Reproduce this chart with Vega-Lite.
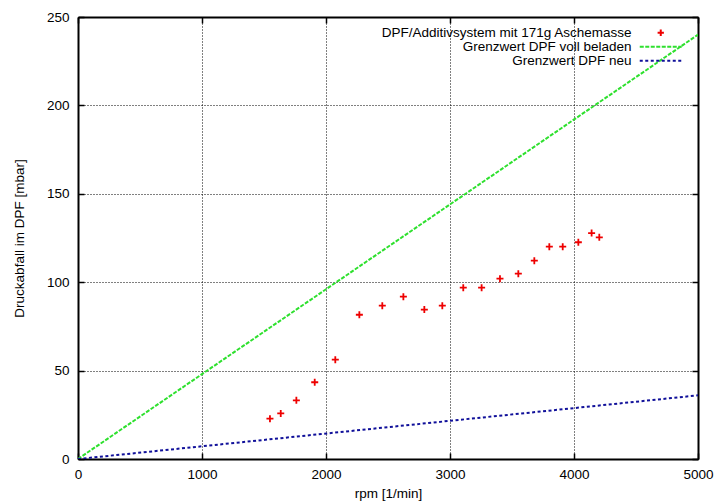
{
  "$schema": "https://vega.github.io/schema/vega-lite/v6.json",
  "width": 620,
  "height": 442,
  "autosize": {"type": "none"},
  "padding": {"left": 78, "top": 17, "right": 22, "bottom": 45},
  "background": "white",
  "config": {
    "font": "Liberation Sans",
    "view": {"stroke": null},
    "axis": {
      "labelFont": "Liberation Sans",
      "labelFontSize": 13.5,
      "labelColor": "black",
      "titleFont": "Liberation Sans",
      "titleFontSize": 13.5,
      "titleFontWeight": "normal",
      "titleColor": "black",
      "domainColor": "black",
      "domainWidth": 2,
      "tickColor": "black",
      "tickWidth": 1.5,
      "gridColor": "black",
      "gridOpacity": 1,
      "gridDash": [1, 2],
      "gridWidth": 1,
      "labelFlush": false,
      "labelOverlap": false
    },
    "legend": {"labelFont": "Liberation Sans", "labelFontSize": 13.5, "labelColor": "black"}
  },
  "datasets": {
    "messung": [
      {"rpm": 1548, "dp": 22.8},
      {"rpm": 1635, "dp": 25.8},
      {"rpm": 1761, "dp": 33.2},
      {"rpm": 1909, "dp": 43.4},
      {"rpm": 2075, "dp": 56.2},
      {"rpm": 2269, "dp": 81.6},
      {"rpm": 2454, "dp": 86.7},
      {"rpm": 2624, "dp": 91.8},
      {"rpm": 2793, "dp": 84.5},
      {"rpm": 2938, "dp": 86.7},
      {"rpm": 3107, "dp": 96.9},
      {"rpm": 3255, "dp": 96.9},
      {"rpm": 3403, "dp": 102.0},
      {"rpm": 3551, "dp": 104.8},
      {"rpm": 3680, "dp": 112.2},
      {"rpm": 3801, "dp": 120.1},
      {"rpm": 3909, "dp": 120.1},
      {"rpm": 4035, "dp": 122.6},
      {"rpm": 4142, "dp": 127.8},
      {"rpm": 4204, "dp": 125.4}
    ],
    "grenz": [
      {"series": "Grenzwert DPF voll beladen", "rpm": 0, "dp": 0},
      {"series": "Grenzwert DPF voll beladen", "rpm": 5000, "dp": 240},
      {"series": "Grenzwert DPF neu", "rpm": 0, "dp": 0},
      {"series": "Grenzwert DPF neu", "rpm": 5000, "dp": 36}
    ]
  },
  "resolve": {"axis": {"x": "independent", "y": "independent"}},
  "layer": [
    {
      "data": {"name": "grenz"},
      "mark": {"type": "line", "strokeWidth": 2, "clip": true},
      "encoding": {
        "x": {
          "field": "rpm", "type": "quantitative",
          "scale": {"domain": [0, 5000], "nice": false, "zero": false},
          "axis": {
            "orient": "bottom", "values": [0, 1000, 2000, 3000, 4000, 5000],
            "grid": true, "tickSize": -6, "labelPadding": 14,
            "title": "rpm [1/min]", "titlePadding": 6, "format": "d"
          }
        },
        "y": {
          "field": "dp", "type": "quantitative",
          "scale": {"domain": [0, 250], "nice": false, "zero": false},
          "axis": {
            "orient": "left", "values": [0, 50, 100, 150, 200, 250],
            "grid": true, "tickSize": -6, "labelPadding": 15,
            "title": "Druckabfall im DPF [mbar]", "titlePadding": 20, "format": "d"
          }
        },
        "color": {
          "field": "series", "type": "nominal",
          "scale": {
            "domain": ["DPF/Additivsystem mit 171g Aschemasse", "Grenzwert DPF voll beladen", "Grenzwert DPF neu"],
            "range": ["#ee0000", "#2ee02e", "#10109a"]
          },
          "legend": {
            "title": null,
            "orient": "none",
            "legendX": 560,
            "legendY": 9,
            "padding": 0,
            "symbolSize": 100,
            "symbolStrokeWidth": 2,
            "labelAlign": "right",
            "labelOffset": -36,
            "symbolOffset": 16,
            "rowPadding": -2.5,
            "labelLimit": 400,
            "encode": {
              "symbols": {
                "update": {
                  "shape": {"signal": "datum.value === 'DPF/Additivsystem mit 171g Aschemasse' ? 'M-0.63,0H0.63M0,-0.63V0.63' : 'M-4.2,0H4.2'"},
                  "strokeDash": {"signal": "datum.value === 'Grenzwert DPF voll beladen' ? [4,1.5] : (datum.value === 'Grenzwert DPF neu' ? [3,2.5] : [1,0])"},
                  "stroke": {"signal": "scale('color', datum.value)"},
                  "fill": {"value": "transparent"},
                  "size": {"value": 100},
                  "strokeWidth": {"value": 2},
                  "opacity": {"value": 1}
                }
              }
            }
          }
        },
        "strokeDash": {
          "field": "series", "type": "nominal",
          "scale": {"domain": ["Grenzwert DPF voll beladen", "Grenzwert DPF neu"], "range": [[4, 1.5], [3, 2.5]]},
          "legend": null
        }
      }
    },
    {
      "data": {"name": "messung"},
      "mark": {"type": "point", "shape": "M-1,0H1M0,-1V1", "filled": false, "size": 49, "strokeWidth": 1.8, "opacity": 1},
      "encoding": {
        "x": {
          "field": "rpm", "type": "quantitative",
          "axis": {"orient": "top", "values": [0, 1000, 2000, 3000, 4000, 5000], "labels": false, "grid": false, "tickSize": -6, "title": null}
        },
        "y": {
          "field": "dp", "type": "quantitative",
          "axis": {"orient": "right", "values": [0, 50, 100, 150, 200, 250], "labels": false, "grid": false, "tickSize": -6, "title": null}
        },
        "color": {"datum": "DPF/Additivsystem mit 171g Aschemasse", "type": "nominal"}
      }
    }
  ]
}
